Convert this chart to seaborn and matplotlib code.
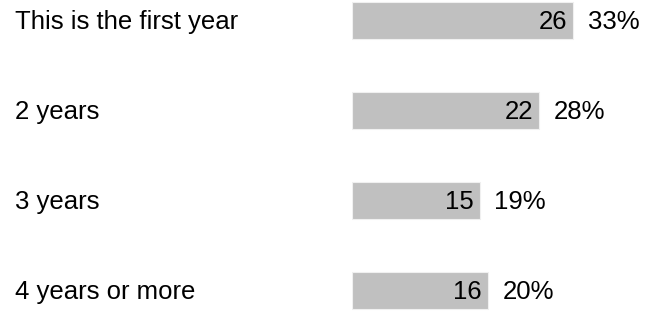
import matplotlib
matplotlib.use("Agg")
import matplotlib.pyplot as plt
import matplotlib.transforms as mtransforms
import seaborn as sns
import pandas as pd

categories = ["This is the first year", "2 years", "3 years", "4 years or more"]
counts = [26, 22, 15, 16]
percents = ["33%", "28%", "19%", "20%"]

df = pd.DataFrame({"category": categories, "count": counts})

sns.set_style("white")
plt.rcParams["font.family"] = ["Liberation Sans", "DejaVu Sans"]

fig = plt.figure(figsize=(6.46, 3.12), dpi=100)
ax = fig.add_axes([352 / 646, 0, 1 - 352 / 646, 1])

sns.barplot(data=df, x="count", y="category", orient="h", color="#c0c0c0",
            saturation=1, width=0.41, edgecolor="#f0f0f0", linewidth=0.8, ax=ax)

ax.set_xlim(0, (646 - 352) / 8.5)
ax.set_ylim(3.239, -0.228)
ax.axis("off")

fs = 18.5
def shift(dx, dy=-1.5):
    return mtransforms.ScaledTranslation(dx / 100, dy / 100, fig.dpi_scale_trans)

label_tr = mtransforms.blended_transform_factory(fig.transFigure, ax.transData)
for i, (cat, n, pct) in enumerate(zip(categories, counts, percents)):
    ax.text(15 / 646, i, cat, transform=label_tr + shift(0), ha="left",
            va="center", fontsize=fs, color="black")
    ax.text(n, i, str(n), transform=ax.transData + shift(-6),
            ha="right", va="center", fontsize=fs, color="black")
    ax.text(n, i, pct, transform=ax.transData + shift(15),
            ha="left", va="center", fontsize=fs, color="black")

fig.savefig("out.png", dpi=100)
